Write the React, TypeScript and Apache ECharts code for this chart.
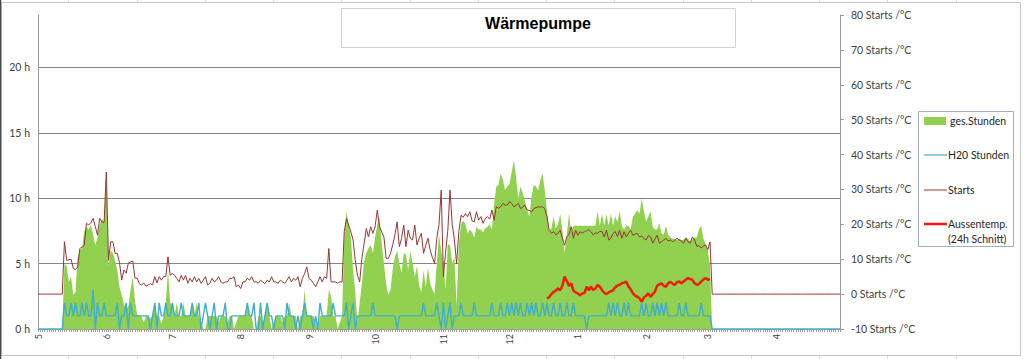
import React, { useEffect, useRef } from "react";
import * as echarts from "echarts";

// ---- data (daily values, 2012-05-01 .. 2013-04-30) ----
const firstDay = "2012-05-01";
const dayCount = 365;

// ges.Stunden (h) – left axis
const gesStunden = [
  0,0,0,0,0,0,0,0,0,0,
  0,0,5.0,4.8,3.6,4.0,2.6,2.8,5.5,6.0,
  6.2,7.5,7.8,7.6,8.0,7.2,6.4,7.0,8.0,8.4,
  8.2,12.0,4.8,6.0,5.8,5.2,4.5,3.2,2.6,1.9,
  1.5,1.7,3.0,4.0,2.2,1.1,1.0,1.0,0.5,1.0,
  1.0,0.8,1.0,2.0,1.0,1.0,0.4,1.0,2.0,4.5,
  2.0,1.8,1.0,2.0,1.0,1.0,2.0,1.0,1.0,1.0,
  2.0,1.0,2.0,1.0,0.5,0.0,0.0,1.0,1.0,1.0,
  1.0,1.0,0.5,1.0,1.0,1.0,0.5,1.0,1.0,0.0,
  0.5,1.0,1.0,1.0,1.0,2.0,1.0,1.0,0.0,0.0,
  1.0,1.0,0.5,1.0,2.0,1.0,0.0,0.5,1.0,1.0,
  1.0,0.5,1.0,1.0,2.0,1.0,1.0,1.0,0.0,1.0,
  1.0,3.0,1.0,1.0,1.0,1.0,0.5,0.0,1.0,1.0,
  1.0,1.0,3.0,2.5,1.0,1.0,0.0,0.5,1.0,7.0,
  9.0,8.0,7.0,4.5,2.8,0.5,2.0,3.5,5.2,5.8,
  6.2,6.4,5.8,7.0,8.0,8.5,6.5,5.0,3.5,2.6,
  3.0,4.6,5.5,6.0,5.0,4.3,5.8,5.7,4.5,6.0,
  5.0,4.0,4.8,3.3,2.8,4.5,3.2,4.7,3.5,3.0,
  2.7,5.0,7.2,6.0,5.0,3.0,6.5,6.4,5.0,5.5,
  1.8,6.5,8.0,8.3,8.0,7.3,7.6,7.4,7.0,7.8,
  7.6,7.6,7.4,7.7,7.8,8.0,7.6,9.5,10.9,11.0,
  11.9,11.4,10.6,10.9,11.1,12.0,12.9,11.5,10.0,10.9,
  10.4,9.8,9.1,8.6,10.1,11.0,10.9,10.6,11.4,11.9,
  10.6,9.0,7.5,7.7,8.6,7.7,8.0,8.8,7.6,5.8,
  7.2,8.8,7.4,7.9,7.9,7.9,7.9,7.9,7.9,7.9,
  7.9,7.9,7.9,7.9,9.0,7.9,8.8,7.9,8.8,7.9,
  8.8,7.9,8.6,8.2,9.0,7.9,7.6,7.9,7.9,7.6,
  8.6,8.8,9.1,8.8,10.0,9.0,8.2,8.6,9.0,7.8,
  7.6,7.6,8.1,7.3,7.2,7.9,7.2,7.0,6.9,6.9,
  6.8,6.9,6.8,6.8,7.0,6.9,6.7,6.9,7.0,7.0,
  7.6,7.9,6.9,6.5,6.0,4.8,0,0,0,0,
  0,0,0,0,0,0,0,0,0,0,
  0,0,0,0,0,0,0,0,0,0,
  0,0,0,0,0,0,0,0,0,0,
  0,0,0,0,0,0,0,0,0,0,
  0,0,0,0,0,0,0,0,0,0,
  0,0,0,0,0,
];

// H20 Stunden (h) – left axis
const h2oStunden = [
  0,0,0,0,0,0,0,0,0,0,
  0,0,2,1,1,2,1,2,1,1,
  2,1,2,1,1,3,0,2,1,1,
  2,1,1,1,1,1,2,0,1,1,
  2,0,2,1,1,1,1,1,1,1,
  1,0,1,2,0,2,1,1,2,1,
  1,2,1,1,1,2,1,1,1,1,
  2,1,1,2,0,1,2,1,0,1,
  2,0,1,1,1,2,0,0,1,1,
  1,1,1,1,1,2,1,1,2,0,
  0,2,0,1,2,1,1,0,1,1,
  1,1,0,2,1,1,1,0,1,0,
  1,2,1,1,1,0,1,0,2,1,
  1,1,1,1,2,1,1,1,1,1,
  2,0,1,2,0,1,1,1,1,1,
  1,1,2,1,1,1,1,1,1,1,
  1,1,1,0,1,1,1,1,1,1,
  1,1,1,1,1,2,1,1,1,1,
  1,2,1,0,2,0,1,2,0,1,
  1,1,2,1,1,1,1,1,2,1,
  1,1,1,1,1,1,2,1,1,1,
  2,1,1,2,1,2,1,2,1,2,
  1,1,2,1,2,1,2,1,1,2,
  1,2,1,1,2,1,1,2,1,1,
  2,1,1,2,1,1,1,1,1,0,
  1,1,1,1,1,1,1,1,1,2,
  1,2,1,2,1,1,2,1,2,1,
  1,1,1,1,2,1,2,1,1,2,
  1,2,1,2,1,2,1,1,1,1,
  1,2,1,1,2,1,1,1,1,1,
  1,2,1,1,1,1,0,0,0,0,
  0,0,0,0,0,0,0,0,0,0,
  0,0,0,0,0,0,0,0,0,0,
  0,0,0,0,0,0,0,0,0,0,
  0,0,0,0,0,0,0,0,0,0,
  0,0,0,0,0,0,0,0,0,0,
  0,0,0,0,0,
];

// Starts per day – right axis
const starts = [
  0,0,0,0,0,0,0,0,0,0,
  0,0,15.0,9.7,9.8,10.0,7.4,7.0,7.8,13.1,
  13.5,14.0,20.3,19.8,20.5,21.7,19.4,16.9,21.7,20.7,
  20.5,35.0,9.7,15.0,15.0,11.7,11.7,9.0,4.0,6.9,
  6.0,8.9,9.2,9.5,4.6,4.6,3.0,2.6,3.2,2.3,
  2.6,3.0,2.6,5.0,3.2,5.0,4.0,5.0,5.0,10.7,
  5.4,5.9,5.4,4.5,3.5,5.4,4.0,5.4,3.1,4.5,
  3.5,5.0,3.5,4.5,3.1,4.0,5.0,2.6,3.1,4.5,
  3.5,4.0,5.0,3.5,3.1,3.5,3.5,4.5,4.5,5.0,
  2.1,2.6,1.6,3.5,3.5,4.5,4.0,5.0,3.5,3.5,
  3.1,4.0,3.5,3.0,4.0,3.5,5.0,3.5,3.5,3.1,
  4.0,3.5,3.1,4.0,5.0,3.5,4.5,4.0,5.0,2.1,
  4.5,5.9,7.8,4.5,4.0,3.1,2.1,3.5,5.0,3.5,
  5.0,4.5,13.1,3.5,3.5,3.5,3.1,3.5,3.5,18.0,
  21.7,19.8,17.8,15.5,9.7,5.4,3.5,10.3,14.5,18.8,
  16.4,19.3,17.4,19.3,24.1,19.3,17.8,16.4,10.3,10.2,
  11.7,14.1,17.0,20.7,13.6,16.0,19.8,13.6,18.3,16.0,
  15.5,19.8,14.1,16.0,17.4,11.7,14.0,16.0,12.6,10.5,
  8.8,16.0,20.0,29.8,5.0,12.0,18.3,29.8,20.0,15.5,
  8.8,17.9,22.6,22.0,23.1,22.2,23.6,21.0,20.7,23.6,
  21.2,22.2,20.3,21.7,22.2,21.5,24.1,21.2,25.1,24.6,
  25.0,26.0,25.5,25.5,26.5,26.0,25.0,25.5,26.0,24.5,
  25.0,25.5,24.1,24.0,23.6,24.5,24.8,25.0,25.0,25.0,
  24.5,22.2,18.3,17.4,17.9,17.0,17.4,18.3,16.0,14.0,
  16.5,17.0,19.3,16.0,18.3,16.9,17.9,17.5,17.9,18.2,
  18.5,17.9,16.9,17.6,17.4,18.0,17.9,16.4,18.3,15.5,
  16.0,17.4,17.9,16.5,18.3,16.0,17.9,16.4,17.5,18.3,
  16.9,17.2,17.4,16.4,16.6,16.0,15.5,16.8,16.4,14.6,
  15.8,16.9,14.6,15.0,15.5,16.0,15.2,15.5,15.0,15.4,
  16.0,15.5,15.2,14.6,16.0,15.0,14.6,16.4,15.5,13.7,
  13.9,13.2,13.8,14.1,12.7,15.0,0,0,0,0,
  0,0,0,0,0,0,0,0,0,0,
  0,0,0,0,0,0,0,0,0,0,
  0,0,0,0,0,0,0,0,0,0,
  0,0,0,0,0,0,0,0,0,0,
  0,0,0,0,0,0,0,0,0,0,
  0,0,0,0,0,
];

// Aussentemp. (24h Schnitt) °C – right axis, from 2012-12-18
const tempFirstDay = "2012-12-18";
const aussentemp = [
  -1.2,-0.9,0.0,0.6,1.0,1.6,1.1,2.4,5.0,3.8,
  2.3,3.1,1.0,0.5,0.2,-0.3,0.2,0.3,2.1,1.1,
  2.1,1.2,1.6,2.6,2.1,1.1,0.4,0.0,0.5,0.8,
  1.1,2.0,2.4,2.7,3.1,3.3,3.6,2.2,1.4,0.2,
  -0.4,-0.8,-1.2,-2.2,-1.0,-0.5,0.2,-0.8,0.0,0.7,
  2.4,2.8,3.1,2.4,2.1,3.1,3.5,3.0,2.6,3.4,
  3.6,3.1,3.6,4.1,4.6,4.3,4.1,3.1,2.7,2.9,
  3.6,4.2,4.6,4.1,4.3,
];

const seriesNames = ["ges.Stunden", "H20 Stunden", "Starts", "Aussentemp.\n(24h Schnitt)"];
const colors = { green: "#92D050", cyan: "#40AECB", brown: "#953735", red: "#EE1C0A" };

const FONT = "Lato, 'Noto Sans', sans-serif";

function buildDates(): string[] {
  const out: string[] = [];
  const t0 = Date.parse(firstDay + "T00:00:00Z");
  for (let i = 0; i < dayCount; i++) {
    out.push(new Date(t0 + i * 86400000).toISOString().slice(0, 10));
  }
  return out;
}

export default function App() {
  const ref = useRef<HTMLDivElement>(null);

  useEffect(() => {
    if (!ref.current) return;
    const chart = echarts.init(ref.current, undefined, { renderer: "svg" });
    const dates = buildDates();
    const tIdx = dates.indexOf(tempFirstDay);
    const tempData = dates.map((_, i) =>
      i >= tIdx && i < tIdx + aussentemp.length ? aussentemp[i - tIdx] : null
    );

    const colLines: any[] = [];
    for (let k = 1; k <= 14; k++) {
      const x = Math.round(68.25 * k) + 0.5;
      colLines.push({ type: "line", shape: { x1: x, y1: 0, x2: x, y2: 2 }, style: { stroke: "#dcdcdc", lineWidth: 1 }, silent: true });
      colLines.push({ type: "line", shape: { x1: x, y1: 356, x2: x, y2: 359 }, style: { stroke: "#dcdcdc", lineWidth: 1 }, silent: true });
    }

    const legendText = (text: string, x: number, y: number) => ({
      type: "text",
      x,
      y,
      style: { text, fontSize: 10.5, fontFamily: FONT, fill: "#262626", align: "left", verticalAlign: "middle" },
    });

    chart.setOption({
      animation: false,
      backgroundColor: "#ffffff",
      grid: { left: 38, top: 15, width: 802, height: 314, containLabel: false },
      xAxis: {
        type: "category",
        data: dates,
        boundaryGap: false,
        axisLine: { show: true, lineStyle: { color: "#9a9a9a", width: 1 } },
        axisTick: { show: true, interval: 0, length: 3, lineStyle: { color: "#a0a0a0", width: 1 } },
        axisLabel: {
          interval: (_idx: number, value: string) => value.endsWith("-01"),
          formatter: (value: string) => String(parseInt(value.slice(5, 7), 10)),
          rotate: 90,
          fontSize: 9,
          fontFamily: FONT,
          color: "#404040",
          margin: 5,
        },
        splitLine: { show: false },
      },
      yAxis: [
        {
          type: "value",
          min: 0,
          max: 24,
          interval: 5,
          axisLine: { show: true, lineStyle: { color: "#9a9a9a" } },
          axisTick: { show: false },
          axisLabel: {
            formatter: (v: number) => (v > 20 ? "" : v + " h"),
            fontSize: 10.5,
            fontFamily: FONT,
            color: "#404040",
            margin: 8,
          },
          splitLine: {
            show: true,
            showMinLine: false,
            showMaxLine: false,
            lineStyle: { color: "#868686", width: 1 },
          },
        },
        {
          type: "value",
          position: "right",
          min: -10,
          max: 80,
          interval: 10,
          axisLine: { show: true, lineStyle: { color: "#9a9a9a" } },
          axisTick: { show: true, length: 4, lineStyle: { color: "#9a9a9a" } },
          axisLabel: {
            formatter: "{value} Starts /°C",
            fontSize: 10.5,
            fontFamily: FONT,
            color: "#404040",
            margin: 11,
          },
          splitLine: { show: false },
        },
      ],
      series: [
        {
          name: seriesNames[0],
          type: "line",
          data: gesStunden,
          yAxisIndex: 0,
          showSymbol: false,
          symbol: "none",
          lineStyle: { width: 0 },
          areaStyle: { color: colors.green, opacity: 1 },
          itemStyle: { color: colors.green },
        },
        {
          name: seriesNames[1],
          type: "line",
          data: h2oStunden,
          yAxisIndex: 0,
          showSymbol: false,
          symbol: "none",
          lineStyle: { width: 1.4, color: colors.cyan },
          itemStyle: { color: colors.cyan },
        },
        {
          name: seriesNames[2],
          type: "line",
          data: starts,
          yAxisIndex: 1,
          showSymbol: false,
          symbol: "none",
          lineStyle: { width: 1, color: colors.brown },
          itemStyle: { color: colors.brown },
        },
        {
          name: seriesNames[3],
          type: "line",
          data: tempData,
          yAxisIndex: 1,
          showSymbol: false,
          symbol: "none",
          connectNulls: false,
          lineStyle: { width: 2.5, color: colors.red },
          itemStyle: { color: colors.red },
        },
      ],
      graphic: [
        ...colLines,
        { type: "rect", shape: { x: 1.5, y: 2.5, width: 1019, height: 353 }, style: { fill: "none", stroke: "#c6c6c6", lineWidth: 1 }, silent: true, z: -1 },
        { type: "line", shape: { x1: 0.5, y1: 0, x2: 0.5, y2: 359 }, style: { stroke: "#4a4a4a", lineWidth: 1.5 }, silent: true },
        // title box
        { type: "rect", shape: { x: 341.5, y: 8.5, width: 394, height: 39 }, style: { fill: "#ffffff", stroke: "#d0d0d0", lineWidth: 1 } },
        {
          type: "text",
          x: 538,
          y: 23,
          style: { text: "Wärmepumpe", fontSize: 16, fontWeight: "bold", fontFamily: "'Liberation Sans', Arial, sans-serif", fill: "#000000", align: "center", verticalAlign: "middle" },
        },
        // legend
        { type: "rect", shape: { x: 918.5, y: 111.5, width: 95, height: 135 }, style: { fill: "#ffffff", stroke: "#9fb0c6", lineWidth: 1 } },
        { type: "rect", shape: { x: 924, y: 117, width: 22, height: 8 }, style: { fill: colors.green } },
        legendText("ges.Stunden", 950, 121),
        { type: "line", shape: { x1: 924, y1: 155, x2: 947, y2: 155 }, style: { stroke: colors.cyan, lineWidth: 1.2 } },
        legendText("H20 Stunden", 948, 155),
        { type: "line", shape: { x1: 924, y1: 190, x2: 947, y2: 190 }, style: { stroke: colors.brown, lineWidth: 1 } },
        legendText("Starts", 948, 190),
        { type: "line", shape: { x1: 924, y1: 224, x2: 947, y2: 224 }, style: { stroke: colors.red, lineWidth: 2.5 } },
        legendText("Aussentemp.", 948, 224),
        legendText("(24h Schnitt)", 948, 239),
      ],
    });
    return () => chart.dispose();
  }, []);

  return (
    <div
      ref={ref}
      style={{ position: "fixed", left: 0, top: 0, width: 1024, height: 359, background: "#ffffff" }}
    />
  );
}
